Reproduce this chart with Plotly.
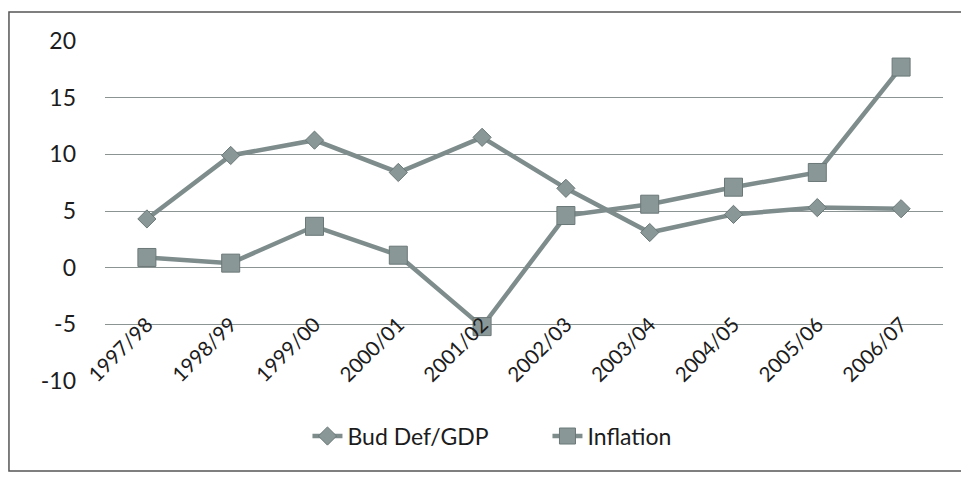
import plotly.graph_objects as go

# Fiscal years on the category axis
years = ["1997/98", "1998/99", "1999/00", "2000/01", "2001/02",
         "2002/03", "2003/04", "2004/05", "2005/06", "2006/07"]

# Budget deficit as a share of GDP (%)
bud_def_gdp = [4.3, 9.9, 11.25, 8.4, 11.5, 7.0, 3.1, 4.7, 5.3, 5.2]

# Inflation rate (%)
inflation = [0.9, 0.4, 3.65, 1.1, -5.2, 4.6, 5.6, 7.1, 8.4, 17.7]

y_ticks = [-10, -5, 0, 5, 10, 15, 20]
y_tick_text = ["-10", "-5", "0", "5", "10", "15", "20"]

LINE = "#7e8c8c"
FILL = "#8a9797"
EDGE = "#6b7878"
FONT = "Lato"
TEXT = "#1c1c1c"

fig = go.Figure()
fig.add_trace(go.Scatter(
    x=years, y=bud_def_gdp, name="Bud Def/GDP", mode="lines+markers",
    line=dict(color=LINE, width=4.5),
    marker=dict(symbol="diamond", size=14, color=FILL,
                line=dict(color=EDGE, width=1)),
))
fig.add_trace(go.Scatter(
    x=years, y=inflation, name="Inflation", mode="lines+markers",
    line=dict(color=LINE, width=4.5),
    marker=dict(symbol="square", size=18, color=FILL,
                line=dict(color=EDGE, width=1)),
))

# Outer chart frame
fig.add_shape(type="rect", xref="paper", yref="paper",
              x0=-0.1146, x1=1.03, y0=-0.265, y1=1.085,
              line=dict(color="#555", width=1.5), fillcolor="rgba(0,0,0,0)",
              layer="below")

fig.update_layout(
    width=961, height=477,
    margin=dict(l=105, r=18, t=41, b=96),
    paper_bgcolor="white", plot_bgcolor="white",
    font=dict(family=FONT, size=23, color=TEXT),
    showlegend=True,
    legend=dict(orientation="h", x=0.528, xanchor="center",
                y=-0.162, yanchor="middle",
                font=dict(family=FONT, size=23, color=TEXT),
                entrywidth=195, entrywidthmode="pixels"),
    xaxis=dict(
        type="category", range=[-0.5, len(years) - 0.5],
        showgrid=False, zeroline=False, showline=False,
        tickangle=-45, ticks="", anchor="free", position=1 / 3,
        ticklabelstandoff=40,
        tickfont=dict(family=FONT, size=20.5, color=TEXT),
    ),
    yaxis=dict(
        range=[-10, 20], tickvals=y_ticks, ticktext=y_tick_text,
        showgrid=True, gridcolor="#8c9393", gridwidth=1.3,
        zeroline=False, showline=False, ticks="",
        ticklabelstandoff=28,
        tickfont=dict(family=FONT, size=23, color=TEXT),
    ),
)

fig.write_html("out.html")
